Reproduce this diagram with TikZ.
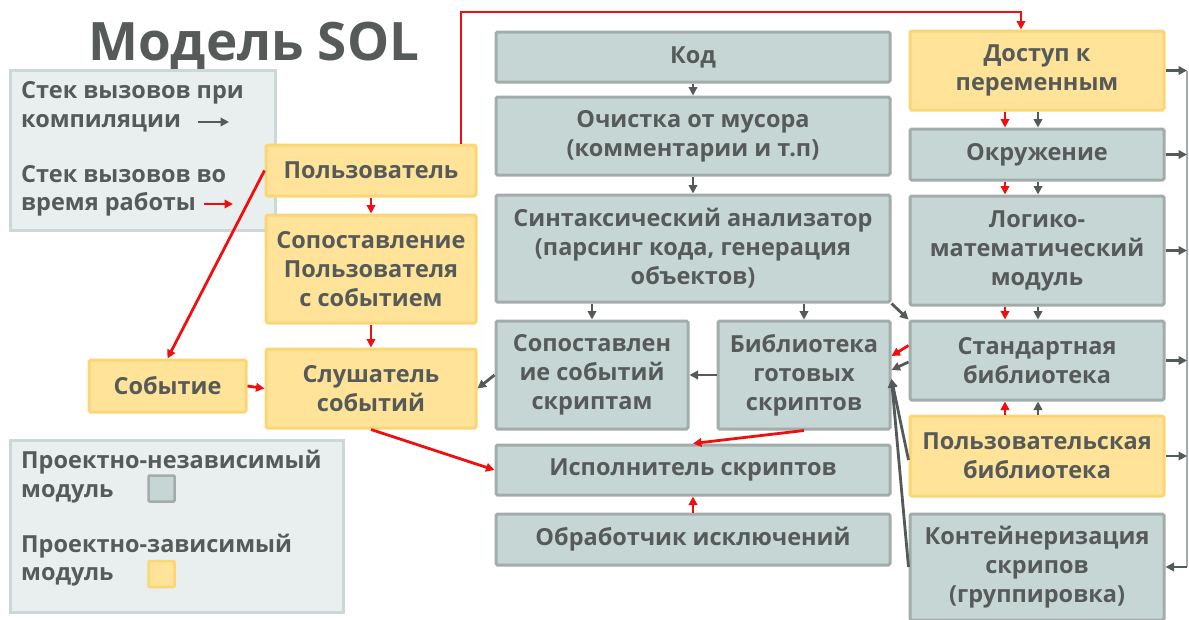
\documentclass[tikz,border=0pt]{standalone}
\usepackage{fontspec}
\setmainfont{Open Sans}
\usetikzlibrary{arrows.meta,calc}

\definecolor{ink}{HTML}{565B5A}
\definecolor{gfill}{HTML}{C6D6D5}
\definecolor{gdraw}{HTML}{A2ADAB}
\definecolor{yfill}{HTML}{FEE398}
\definecolor{ydraw}{HTML}{FAD676}
\definecolor{legfill}{HTML}{E9EEEE}
\definecolor{legdraw}{HTML}{CCD8D8}
\definecolor{darr}{HTML}{545A59}
\definecolor{runred}{HTML}{F00F0F}
\definecolor{busline}{HTML}{A4ACAB}

\tikzset{
  base/.style={draw, line width=3pt, rounded corners=1.5pt, align=center, text=ink,
    font=\bfseries\fontsize{23.5}{29}\selectfont, inner sep=2pt},
  gbox/.style={base, fill=gfill, draw=gdraw},
  ybox/.style={base, fill=yfill, draw=ydraw},
  legbox/.style={draw=legdraw, fill=legfill, line width=3pt},
  legtext/.style={anchor=base west, text=ink, inner sep=0pt,
    font=\bfseries\fontsize{23.5}{29}\selectfont},
  dark/.style={draw=darr, line width=2.8pt, -{Triangle[length=8.5pt,width=8.5pt]}},
  run/.style={draw=runred, line width=2.8pt, -{Triangle[length=8.5pt,width=8.5pt]}},
}

% box given by its corners: name, style, x1, y1, x2, y2, text
\newcommand\blk[7]{%
  \pgfmathsetmacro\bcx{(#3+#5)/2}\pgfmathsetmacro\bcy{(#4+#6)/2}%
  \pgfmathsetmacro\bw{#5-#3}\pgfmathsetmacro\bh{#6-#4}%
  \node[#2, minimum width=\bw pt, minimum height=\bh pt] (#1) at (\bcx,\bcy) {#7};}

\begin{document}
\begin{tikzpicture}[x=1pt,y=-1pt]
\useasboundingbox (0,0) rectangle (1189,619);

% title
\node[anchor=base west, text=ink, inner sep=0pt,
  font=\bfseries\fontsize{53}{58}\selectfont] (title) at (88,60) {Модель SOL};

% legend: call stacks
\node[legbox, minimum width=265pt, minimum height=160pt] (legA) at (142.5,150) {};
\node[legtext] (la1) at (21,98) {Стек вызовов при};
\node[legtext] (la2) at (21,127) {компиляции};
\node[legtext] (la3) at (21,182) {Стек вызовов во};
\node[legtext] (la4) at (21,210) {время работы};
\coordinate (ka) at (198,122); \coordinate (kb) at (229,122);
\coordinate (ra) at (204,204); \coordinate (rb) at (233,204);
\draw[dark] (ka) -- (kb);
\draw[run] (ra) -- (rb);

% legend: module kinds
\node[legbox, minimum width=333pt, minimum height=172pt] (legB) at (176.5,526) {};
\node[legtext] (lb1) at (21,468) {Проектно-независимый};
\node[legtext] (lb2) at (21,497) {модуль};
\node[legtext] (lb3) at (21,552) {Проектно-зависимый};
\node[legtext] (lb4) at (21,580) {модуль};
\node[draw=gdraw, fill=gfill, line width=2.5pt, rounded corners=1pt,
  minimum size=26pt, inner sep=0pt] (swg) at (161.5,488.5) {};
\node[draw=ydraw, fill=yfill, line width=2.5pt, rounded corners=1pt,
  minimum size=26pt, inner sep=0pt] (swy) at (161.5,574) {};

% user side
\blk{user}{ybox}{266}{145}{476}{196}{Пользователь}
\blk{csb}{ybox}{266}{215}{476}{323}{Сопоставление\\Пользователя\\с событием}
\blk{listener}{ybox}{266}{349}{476}{428}{Слушатель\\событий}
\blk{event}{ybox}{89}{360}{246}{412}{Событие}

% centre column
\blk{kod}{gbox}{496}{32}{890}{82}{Код}
\blk{clean}{gbox}{496}{97}{890}{175}{Очистка от мусора\\(комментарии и т.п)}
\blk{syn}{gbox}{496}{195}{890}{302}{Синтаксический анализатор\\(парсинг кода, генерация\\объектов)}
\blk{match}{gbox}{496}{321}{688}{429}{Сопоставлен\\ие событий\\скриптам}
\blk{lib}{gbox}{718}{321}{890}{429}{Библиотека\\готовых\\скриптов}
\blk{exec}{gbox}{496}{445}{890}{495}{Исполнитель скриптов}
\blk{exc}{gbox}{496}{514}{890}{565}{Обработчик исключений}

% right column
\blk{acc}{ybox}{910}{31}{1164}{110}{Доступ к\\переменным}
\blk{env}{gbox}{910}{129}{1164}{180}{Окружение}
\blk{logic}{gbox}{910}{196}{1164}{305}{Логико-\\математический\\модуль}
\blk{std}{gbox}{910}{321}{1164}{400}{Стандартная\\библиотека}
\blk{ulib}{ybox}{910}{416}{1164}{496}{Пользовательская\\библиотека}
\blk{cont}{gbox}{910}{514}{1164}{620}{Контейнеризация\\скрипов\\(группировка)}

% helper columns
\coordinate (rx) at (1005,0);
\coordinate (dx) at (1038,0);
\coordinate (bus) at (1187,0);
\coordinate (ux) at (461,0);
\coordinate (ax) at (1021,0);
\coordinate (topy) at (0,12);

% compile-time stack
\draw[dark] (kod.south) -- (clean.north);
\draw[dark] (clean.south) -- (syn.north);
\draw[dark] (syn.south -| match.north) -- (match.north);
\draw[dark] (syn.south -| lib.north) -- (lib.north);
\draw[dark] (syn.south east) -- (std.north west);
\draw[dark] (lib.west) -- (match.east);
\draw[dark] (match.west) -- (listener.east);
\draw[dark] (acc.south -| dx) -- (env.north -| dx);
\draw[dark] (env.south -| dx) -- (logic.north -| dx);
\draw[dark] (logic.south -| dx) -- (std.north -| dx);
\draw[dark] (ulib.north -| dx) -- (std.south -| dx);
\draw[dark] ([yshift=-1.5pt]std.west) -- ([yshift=5pt]lib.east);
\draw[dark] ([yshift=-4pt]ulib.west) -- ([yshift=-4pt]lib.east);
\draw[dark] (cont.west) -- ([yshift=-4pt]lib.east);

% bus on the right
\draw[busline, line width=1.4pt] (acc.east -| bus) -- (cont.east -| bus);
\foreach \n in {acc,env,logic,std,ulib}
  \draw[dark] (\n.east) -- (\n.east -| bus);
\draw[dark] (cont.east -| bus) -- (cont.east);

% run-time stack
\draw[run] (user.north -| ux) -- (ux |- topy) -| (acc.north -| ax);
\draw[run] (user.south) -- (csb.north);
\draw[run] (csb.south) -- (listener.north);
\draw[run] (user.west) -- (event.north);
\draw[run] (event.east) -- (listener.west);
\draw[run] (listener.south) -- (exec.west);
\draw[run] (lib.south) -- (exec.north);
\draw[run] (exc.north) -- (exec.south);
\draw[run] (acc.south -| rx) -- (env.north -| rx);
\draw[run] (env.south -| rx) -- (logic.north -| rx);
\draw[run] (logic.south -| rx) -- (std.north -| rx);
\draw[run] (ulib.north -| rx) -- (std.south -| rx);
\draw[run] ([yshift=15pt]std.west) -- ([yshift=19pt]lib.east);
\end{tikzpicture}
\end{document}
